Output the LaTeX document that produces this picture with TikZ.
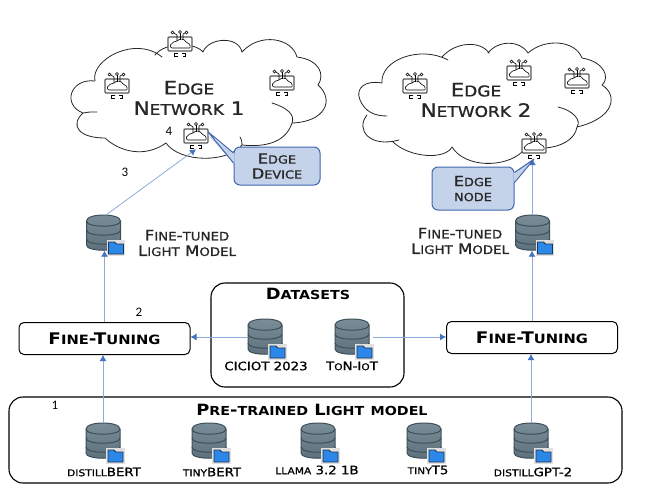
\documentclass[tikz,border=0pt]{standalone}
\usepackage{fontspec}
\usepackage{graphicx}
\setmainfont{DejaVu Sans}
\newfontfamily\widefont[FakeStretch=1.15]{DejaVu Sans}
\newfontfamily\medfont[FakeStretch=1.15,FakeBold=1]{DejaVu Sans}
\newfontfamily\numfont{Carlito}
\usetikzlibrary{arrows.meta,calc}
\newcommand\lo[1]{\scalebox{.8}{\MakeUppercase{#1}}}
\newcommand\fsz[1]{\fontsize{#1}{#1}\selectfont}
\definecolor{linkblue}{HTML}{8FAADC}
\definecolor{tipblue}{HTML}{4472C4}
\definecolor{callfill}{HTML}{C5D3EA}
\definecolor{callline}{HTML}{3F66AE}
\definecolor{inktext}{HTML}{262626}
\definecolor{dbdark}{HTML}{3E4F58}
\definecolor{dbtop}{HTML}{7A8F9A}
\definecolor{dbbody}{HTML}{5C707B}
\definecolor{folderblue}{HTML}{2B88E8}
\definecolor{folderline}{HTML}{1C3550}
\tikzset{
  panel/.style={draw=black,line width=1.1pt,rounded corners=14,fill=none},
  ftbox/.style={draw=black,line width=1pt,rounded corners=5,fill=white,minimum width=171,minimum height=32,inner sep=0,font=\widefont\fsz{16}\bfseries,text=black},
  dbn/.style={minimum width=34,minimum height=35,inner sep=0},
  devn/.style={minimum width=24,minimum height=28,inner sep=0},
  callbox/.style={draw=callline,line width=1pt,fill=callfill,rounded corners=6,inner sep=0,align=center,text=inktext,font=\medfont\fsz{14},text depth=0pt},
  lab/.style={inner sep=0,align=center,text=inktext},
  net/.style={lab,font=\medfont\fsz{18.5}},
  fine/.style={lab,font=\medfont\fsz{14.5}},
  small/.style={lab,text=black,font=\medfont\fsz{11.6}},
  num/.style={inner sep=0,text=black,font=\numfont\fsz{13}},
  title/.style={lab,text=black,font=\widefont\fsz{15.5}\bfseries},
  link/.style={draw=linkblue,line width=.8pt,-{Latex[length=6,width=7,color=tipblue,fill=tipblue]}},
  cloudline/.style={draw=inktext,line width=.8pt,line cap=round},
  dbicon/.pic={
    \path[top color=dbtop,bottom color=dbbody,draw=dbdark,line width=1pt]
      (-17,-12) .. controls (-17,-20) and (17,-20) .. (17,-12) -- (17,12)
      .. controls (17,19) and (-17,19) .. (-17,12) -- cycle;
    \draw[dbdark,line width=1pt] (-17,-12) .. controls (-17,-5) and (17,-5) .. (17,-12);
    \draw[dbdark,line width=1pt] (-17,-3) .. controls (-17,4) and (17,4) .. (17,-3);
    \draw[dbdark,line width=1pt] (-17,6) .. controls (-17,13) and (17,13) .. (17,6);
    \fill[black!12!white] (3,7) rectangle (21.5,22.5);
    \draw[draw=folderline,line width=.9pt,fill=folderblue,line join=round] (5,9) -- (11,9) -- (13,11) -- (20,11) -- (20,21) -- (5,21) -- cycle;
  },
  devicon/.pic={
    \draw[draw=black!65,line width=1.1pt,fill=white,rounded corners=1] (-12,-6) rectangle (12,8);
    \draw[black,line width=.6pt,rounded corners=1.5] (-8,5) -- (8,5) .. controls (11,5) and (10,0) .. (6,0)
       .. controls (5,-4) and (-1,-5) .. (-3,-1) .. controls (-6,-2) and (-7,0) .. (-7,1)
       .. controls (-10,1) and (-10,5) .. (-8,5);
    \draw[black,line width=.6pt] (0,-3) -- (0,-9.5);
    \draw[black,line width=.6pt] (-3,-2) -- (-3,-8) -- (-6,-10);
    \draw[black,line width=.6pt] (3,-3) -- (3,-9) -- (5,-10);
    \draw[black,line width=.6pt,fill=white] (0,-11) circle (1.5) (-7.5,-10.5) circle (1.5) (6.5,-10.5) circle (1.5);
    \draw[black,line width=.7pt] (-2,10.5) -- (-5.5,10.5) -- (-5.5,13) -- (-2.5,13)
       (2,10.5) -- (5.5,10.5) -- (5.5,13) -- (2.5,13);
  },
}
\begin{document}
\begin{tikzpicture}[x=1pt,y=-1pt]
\useasboundingbox (0,0) rectangle (666,500);

% Cloud 1
\draw[cloudline]
  (95,81) .. controls (90,60) and (135,35) .. (162,57)
  (155,55) .. controls (165,42) and (195,42) .. (203,52)
  (203,52) .. controls (208,38) and (238,35) .. (242,52)
  (242,52) .. controls (260,32) and (292,38) .. (297,57)
  (297,57) .. controls (320,60) and (325,75) .. (318,85)
  (318,85) .. controls (335,100) and (325,122) .. (292,123)
  (272,103) .. controls (288,108) and (295,115) .. (292,123)
  (292,123) .. controls (285,145) and (260,147) .. (242,145)
  (240,137) .. controls (242,140) and (242,143) .. (242,145)
  (242,145) .. controls (228,163) and (180,163) .. (166,143)
  (166,143) .. controls (145,158) and (120,152) .. (105,138)
  (105,138) .. controls (78,138) and (70,125) .. (83,113)
  (97,112) .. controls (90,112) and (87,112) .. (83,113)
  (83,113) .. controls (62,105) and (70,78) .. (95,81);

% Cloud 2
\draw[cloudline]
  (382,83) .. controls (380,60) and (420,45) .. (448,60)
  (442,57) .. controls (455,42) and (480,40) .. (489,53)
  (488,53) .. controls (498,40) and (520,40) .. (528,53)
  (528,53) .. controls (545,38) and (575,40) .. (582,58)
  (582,58) .. controls (605,62) and (610,78) .. (602,85)
  (602,85) .. controls (618,95) and (615,118) .. (577,127)
  (558,107) .. controls (572,110) and (582,120) .. (577,127)
  (577,127) .. controls (575,140) and (560,147) .. (545,148)
  (522,152) .. controls (505,168) and (465,168) .. (452,147)
  (452,147) .. controls (445,160) and (410,158) .. (393,142)
  (399,140) .. controls (370,148) and (355,130) .. (367,115)
  (387,116) .. controls (375,116) and (365,112) .. (360,100)
  (360,100) .. controls (355,88) and (365,80) .. (382,83);

% Panels
\node[panel,minimum width=613,minimum height=86,inner sep=0] (pretrained) at (315.5,440) {};
\node[panel,minimum width=193,minimum height=104,inner sep=0] (datasets) at (307.5,335) {};
\node[ftbox] (ft1) at (104.5,338.5) {F\lo{ine}-T\lo{uning}};
\node[ftbox] (ft2) at (532,337.5) {F\lo{ine}-T\lo{uning}};

% Databases
\node[dbn] (db1) at (103,441) {};
\node[dbn] (db2) at (209,441) {};
\node[dbn] (db3) at (318,441) {};
\node[dbn] (db4) at (424,441) {};
\node[dbn] (db5) at (531,441) {};
\node[dbn] (cic) at (265,337) {};
\node[dbn] (ton) at (352,337) {};
\node[dbn] (fdb1) at (103.5,233) {};
\node[dbn] (fdb2) at (532.5,233) {};
\foreach \n in {db1,db2,db3,db4,db5,cic,ton,fdb1,fdb2} \pic at (\n) {dbicon};

% Devices
\node[devn] (d1) at (180,43) {};
\node[devn] (d2) at (117,85) {};
\node[devn] (d3) at (282,82) {};
\node[devn] (d4) at (196,135) {};
\node[devn] (e1) at (415,85) {};
\node[devn] (e2) at (519,72) {};
\node[devn] (e3) at (577,80) {};
\node[devn] (e4) at (534,145) {};
\foreach \n in {d1,d2,d3,d4,e1,e2,e3,e4} \pic at (\n) {devicon};

% Connectors
\draw[link] (db1.north) -- (db1.north |- ft1.south);
\draw[link] (ft1.north) -- (ft1.north |- fdb1.south);
\draw[link] ([xshift=2]fdb1.north) -- ([xshift=0]d4.south);
\draw[link] (db5.north) -- (db5.north |- ft2.south);
\draw[link] (ft2.north) -- (ft2.north |- fdb2.south);
\draw[link] (fdb2.north) -- (fdb2.north |- e4.south);
\draw[link] (cic.west) -- (cic.west -| ft1.east);
\draw[link] ([xshift=4]ton.east) -- (ton.east -| ft2.west);

% Callouts
\node[callbox,minimum width=86,minimum height=38] (cb1) at (277,166) {E\lo{dge}\\[1pt]D\lo{evice}};
\node[callbox,minimum width=82,minimum height=43] (cb2) at (473,188.5) {E\lo{dge}\\[1pt]\lo{node}};
\fill[callfill] ($(cb1.west)+(0,-13)$) -- (d4.east) -- ($(cb1.west)+(0,-3)$) -- ++(1,0) -- ++(0,-10) -- cycle;
\draw[callline,line width=1pt,line join=round] ($(cb1.west)+(0,-13)$) -- ([yshift=3]d4.east) -- ($(cb1.west)+(0,-3)$);
\fill[callfill] ($(cb2.east)+(-1,-16)$) -- (e4.south) -- ($(cb2.east)+(-1,-6)$) -- cycle;
\draw[callline,line width=1pt,line join=round] ($(cb2.east)+(0,-16)$) -- (e4.south) -- ($(cb2.east)+(0,-6)$);

% Texts
\node[net] (n1) at (189,98) {E\lo{dge}\\[2pt]N\lo{etwork} 1};
\node[net] (n2) at (476,100) {E\lo{dge}\\[2pt]N\lo{etwork} 2};
\node[fine] (f1) at (187,243) {F\lo{ine}-\lo{tuned}\\[1pt]L\lo{ight} M\lo{odel}};
\node[fine] (f2) at (460,241) {F\lo{ine}-\lo{tuned}\\[1pt]L\lo{ight} M\lo{odel}};
\node[title] (t1) at (308,294) {D\lo{atasets}};
\node[title] (t2) at (312,410) {P\lo{re}-\lo{trained} L\lo{ight} \lo{model}};
\node[small] (s1) at (266,366) {CICIOT 2023};
\node[small] (s2) at (352,366) {T\lo{o}N-I\lo{o}T};
\node[small] (s3) at (104,472) {\lo{distill}BERT};
\node[small] (s4) at (212,472) {\lo{tiny}BERT};
\node[small] (s5) at (317,470) {\lo{llama} 3.2 1B};
\node[small] (s6) at (428,470) {\lo{tiny}T5};
\node[small] (s7) at (533,472) {\lo{distill}GPT-2};
\node[num] (k1) at (55,405) {1};
\node[num] (k2) at (139,312) {2};
\node[num] (k3) at (125,172) {3};
\node[num] (k4) at (169,131) {4};
\end{tikzpicture}
\end{document}
